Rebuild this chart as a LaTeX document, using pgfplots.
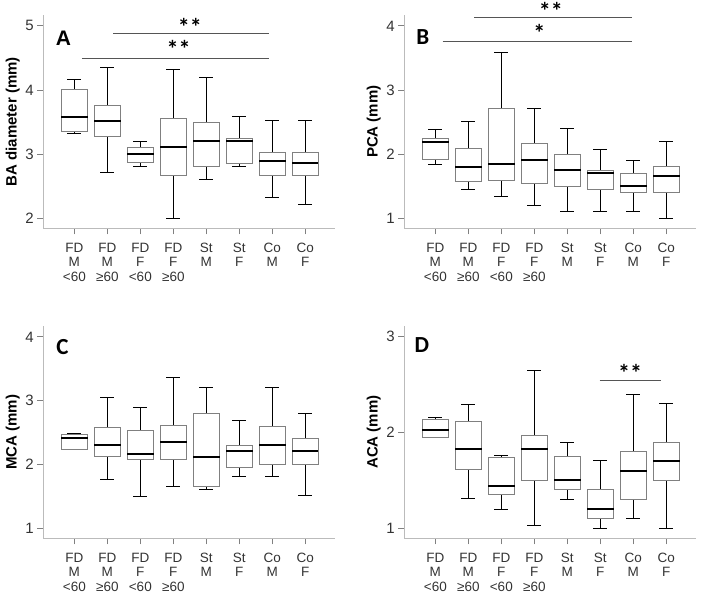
\documentclass[border=0pt]{standalone}
\usepackage{pgfplots}
\pgfplotsset{compat=1.18}
\usepgfplotslibrary{statistics}
\usepackage{fontspec}
\setmainfont{Liberation Sans}
\newfontfamily\calib{Carlito}

\definecolor{axisgray}{HTML}{BBBBBB}
\definecolor{boxgray}{HTML}{808080}
\definecolor{txtgray}{HTML}{333333}
\definecolor{siggray}{HTML}{555555}

\newcommand{\bx}[6]{\addplot[black, line width=1pt, boxplot prepared={draw direction=y, draw position=#1, lower whisker=#2, lower quartile=#3, median=#4, upper quartile=#5, upper whisker=#6, box extend=0.8, whisker extend=0.42}] coordinates {};}

\pgfplotsset{
  boxplot/every box/.style={draw=boxgray, line width=0.8pt, fill=white},
  boxplot/every median/.style={black, line width=2pt},
  panel/.style={scale only axis, width=291.7pt, anchor=south west,
    axis x line*=bottom, axis y line*=left,
    axis line style={axisgray, line width=0.8pt},
    xmin=-0.94, xmax=7.9, xtick={0,...,7},
    xticklabels={{FD\\M\\<60},{FD\\M\\≥60},{FD\\F\\<60},{FD\\F\\≥60},{St\\M},{St\\F},{Co\\M},{Co\\F}},
    tick style={boxgray, line width=0.8pt}, major tick length=6pt, tick align=outside,
    /pgf/number format/assume math mode=true,
    yticklabel style={font=\fontsize{15}{15}\selectfont, text=txtgray},
    xticklabel style={align=center, font=\fontsize{13.5}{14.5}\selectfont, text=txtgray, yshift=-5pt},
    ylabel style={font=\bfseries\fontsize{15}{15}\selectfont, at={(axis description cs:-0.105,0.5)}, anchor=center},
    clip=false},
  sig/.style={siggray, line width=0.9pt, no marks},
}
\tikzset{star/.style={font=\calib\bfseries\fontsize{24}{24}\selectfont, inner sep=0pt},
  plab/.style={font=\bfseries\fontsize{21}{21}\selectfont}}

\begin{document}
\begin{tikzpicture}
\useasboundingbox (0,0) rectangle (705pt,597pt);
% Panel A
\begin{axis}[panel, at={(43.3pt,368.7pt)}, height=213.3pt, ymin=1.84, ymax=5.17, ytick={2,3,4,5}, ylabel={BA diameter (mm)}]
\bx{0}{3.32}{3.36}{3.58}{4.01}{4.16}
\bx{1}{2.71}{3.27}{3.51}{3.76}{4.35}
\bx{2}{2.81}{2.87}{3.00}{3.10}{3.20}
\bx{3}{1.99}{2.67}{3.11}{3.56}{4.32}
\bx{4}{2.60}{2.80}{3.20}{3.49}{4.20}
\bx{5}{2.80}{2.85}{3.20}{3.24}{3.59}
\bx{6}{2.32}{2.66}{2.89}{3.02}{3.52}
\bx{7}{2.21}{2.67}{2.86}{3.03}{3.52}
\addplot[sig] coordinates {(1.18,4.885) (5.9,4.885)};
\addplot[sig] coordinates {(0.23,4.495) (5.9,4.495)};
\node[star] at (axis cs:3.5,4.99) {**};
\node[star] at (axis cs:3.16,4.64) {**};
\node[plab] at (axis cs:-0.33,4.81) {A};
\end{axis}
% Panel B
\begin{axis}[panel, at={(404.3pt,368.7pt)}, height=213.3pt, ymin=0.84, ymax=4.17, ytick={1,2,3,4}, ylabel={PCA (mm)}]
\bx{0}{1.83}{1.92}{2.18}{2.24}{2.39}
\bx{1}{1.45}{1.57}{1.80}{2.08}{2.51}
\bx{2}{1.33}{1.59}{1.84}{2.71}{3.58}
\bx{3}{1.19}{1.54}{1.90}{2.16}{2.71}
\bx{4}{1.11}{1.50}{1.75}{2.00}{2.40}
\bx{5}{1.11}{1.45}{1.70}{1.75}{2.07}
\bx{6}{1.11}{1.40}{1.50}{1.70}{1.90}
\bx{7}{1.00}{1.40}{1.66}{1.80}{2.20}
\addplot[sig] coordinates {(1.18,4.135) (5.96,4.135)};
\addplot[sig] coordinates {(0.22,3.75) (5.96,3.75)};
\node[star] at (axis cs:3.5,4.23) {**};
\node[star] at (axis cs:3.15,3.89) {*};
\node[plab, font=\calib\bfseries\fontsize{23}{23}\selectfont] at (axis cs:-0.38,3.82) {B};
\end{axis}
% Panel C
\begin{axis}[panel, at={(43.3pt,58.7pt)}, height=212.3pt, ymin=0.844, ymax=4.17, ytick={1,2,3,4}, ylabel={MCA (mm)}]
\bx{0}{2.24}{2.24}{2.42}{2.47}{2.49}
\bx{1}{1.77}{2.12}{2.30}{2.58}{3.05}
\bx{2}{1.50}{2.08}{2.16}{2.54}{2.89}
\bx{3}{1.66}{2.08}{2.35}{2.61}{3.37}
\bx{4}{1.61}{1.66}{2.11}{2.80}{3.20}
\bx{5}{1.81}{1.96}{2.21}{2.30}{2.69}
\bx{6}{1.81}{2.00}{2.30}{2.60}{3.20}
\bx{7}{1.51}{2.00}{2.21}{2.41}{2.80}
\node[plab, font=\calib\bfseries\fontsize{23}{23}\selectfont] at (axis cs:-0.36,3.84) {C};
\end{axis}
% Panel D
\begin{axis}[panel, at={(404.3pt,58.7pt)}, height=212.3pt, ymin=0.896, ymax=3.11, ytick={1,2,3}, ylabel={ACA (mm)}]
\bx{0}{1.95}{1.95}{2.03}{2.135}{2.16}
\bx{1}{1.31}{1.61}{1.83}{2.11}{2.29}
\bx{2}{1.20}{1.35}{1.44}{1.735}{1.76}
\bx{3}{1.03}{1.50}{1.83}{1.97}{2.65}
\bx{4}{1.30}{1.41}{1.50}{1.75}{1.90}
\bx{5}{1.00}{1.10}{1.20}{1.41}{1.71}
\bx{6}{1.10}{1.30}{1.60}{1.80}{2.40}
\bx{7}{1.00}{1.50}{1.70}{1.90}{2.30}
\addplot[sig] coordinates {(4.98,2.54) (6.84,2.54)};
\node[star] at (axis cs:5.9,2.62) {**};
\node[plab, font=\calib\bfseries\fontsize{23}{23}\selectfont] at (axis cs:-0.41,2.91) {D};
\end{axis}
\end{tikzpicture}
\end{document}
